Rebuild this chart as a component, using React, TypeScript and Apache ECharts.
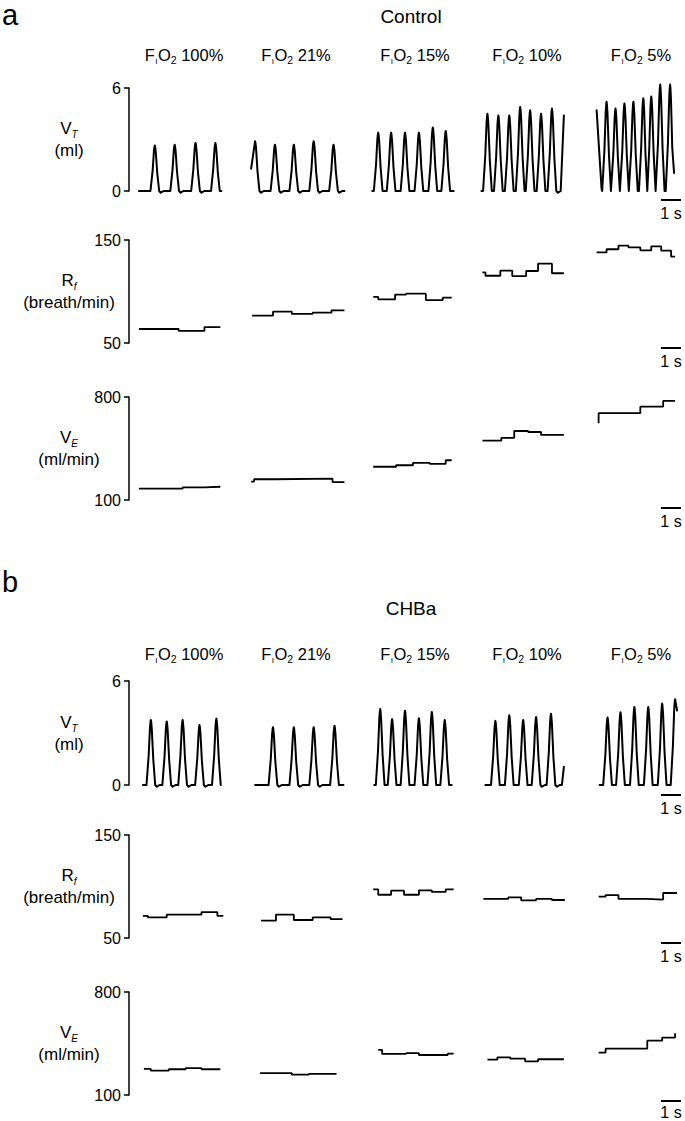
import React, { useEffect, useRef } from 'react';
import * as echarts from 'echarts';

const FONT = '"Liberation Sans", Arial, Helvetica, sans-serif';

type Pt = [number, number];

// ---------- texts ----------
const PANEL_LETTERS = ['a', 'b'];
const PANEL_TITLES = ['Control', 'CHBa'];
const FIO2_LEVELS = ['100%', '21%', '15%', '10%', '5%'];
const ROW_LABEL_MAIN = ['V', 'R', 'V'];
const ROW_LABEL_SUB = ['T', 'f', 'E'];
const ROW_LABEL_UNIT = ['(ml)', '(breath/min)', '(ml/min)'];
const Y_TICKS: number[][] = [[0, 6], [50, 150], [100, 800]];
const SCALE_LABEL = '1 s';

// ---------- data (time in s, value in units of the row) ----------
// Tidal volume traces: lead points, breath peaks [t, peak ml], tail points
const VT_A_LEAD: Pt[][] = [
  [[0.5, 0]],
  [[6.15, 1.3]],
  [[12.25, 0]],
  [[17.75, 0]],
  [[23.55, 4.7], [23.8, 0.1]],
];
const VT_A_PEAKS: Pt[][] = [
  [[1.3, 2.65], [2.3, 2.7], [3.35, 2.8], [4.35, 2.8]],
  [[6.35, 2.9], [7.35, 2.7], [8.3, 2.7], [9.3, 2.9], [10.3, 2.7]],
  [[12.55, 3.4], [13.2, 3.4], [13.9, 3.4], [14.6, 3.4], [15.3, 3.7], [15.95, 3.5]],
  [[18.05, 4.5], [18.6, 4.4], [19.15, 4.4], [19.7, 4.9], [20.2, 4.7], [20.75, 4.5], [21.3, 4.8]],
  [[24.05, 5.2], [24.5, 4.8], [24.95, 5.1], [25.4, 5.2], [25.9, 5.4], [26.3, 5.5], [26.75, 6.2], [27.25, 6.2]],
];
const VT_A_TAIL: Pt[][] = [
  [[4.65, 0]],
  [[10.85, 0]],
  [[16.35, 0]],
  [[21.9, 4.4]],
  [[27.45, 1.05]],
];

const VT_B_LEAD: Pt[][] = [
  [[0.7, 0]],
  [[6.35, 0]],
  [[12.35, 0]],
  [[17.95, 0]],
  [[23.7, 0]],
];
const VT_B_PEAKS: Pt[][] = [
  [[1.1, 3.75], [1.9, 3.67], [2.7, 3.75], [3.55, 3.46], [4.4, 3.83]],
  [[7.25, 3.33], [8.3, 3.33], [9.3, 3.33], [10.35, 3.42]],
  [[12.65, 4.38], [13.25, 3.8], [13.9, 4.29], [14.6, 3.85], [15.25, 4.21], [15.9, 3.75]],
  [[18.45, 3.7], [19.15, 4.02], [19.85, 3.75], [20.5, 3.92], [21.25, 4.11]],
  [[24.1, 3.9], [24.75, 4.2], [25.45, 4.5], [26.15, 4.5], [26.85, 4.7], [27.5, 4.95]],
];
const VT_B_TAIL: Pt[][] = [
  [[4.65, 0]],
  [[10.8, 0]],
  [[16.25, 0]],
  [[21.8, 0], [21.9, 1.05]],
  [[27.6, 4.3]],
];

// Step traces: breakpoints (s) and level values
const RF_A_T: number[][] = [
  [0.5, 2.5, 3.8, 4.6],
  [6.2, 7.25, 8.2, 9.25, 10.2, 10.85],
  [12.3, 12.55, 13.4, 13.95, 14.95, 15.8, 16.25],
  [17.8, 17.95, 18.7, 19.3, 20.0, 20.6, 21.3, 21.9],
  [23.55, 24.05, 24.65, 25.15, 25.75, 26.3, 26.8, 27.3, 27.5],
];
const RF_A_V: number[][] = [
  [63.6, 61.7, 65.5],
  [76.5, 80.4, 78.2, 79.4, 81.7],
  [94.7, 92.4, 96.9, 97.9, 91.7, 94],
  [118.6, 115.3, 120.2, 115, 119.9, 127, 117.7],
  [138, 141, 144.5, 142.9, 140, 143.9, 139.6, 133.8],
];
const VE_A_T: number[][] = [
  [0.5, 2.7, 3.8, 4.6],
  [6.15, 6.3, 7.4, 10.25, 10.85],
  [12.3, 13.45, 14.3, 15.15, 15.95, 16.25],
  [17.8, 18.75, 19.4, 20.1, 20.75, 21.9],
  [23.65, 23.65, 25.75, 26.9, 27.5],
];
const VE_A_V: number[][] = [
  [177, 186, 190],
  [225, 241, 245, 222],
  [326, 336, 352, 345, 370],
  [503, 522, 569, 562, 542],
  [622, 690, 734, 773],
];
const RF_B_T: number[][] = [
  [0.7, 0.95, 1.9, 3.65, 4.45, 4.75],
  [6.65, 7.4, 8.3, 9.25, 10.15, 10.75],
  [12.3, 12.55, 13.2, 13.85, 14.6, 15.25, 15.95, 16.35],
  [17.85, 19.1, 19.75, 20.5, 21.3, 21.95],
  [23.65, 24.0, 24.65, 26.05, 26.9, 27.6],
];
const RF_B_V: number[][] = [
  [71.4, 70.1, 72.6, 75.2, 71.4],
  [66.8, 72.6, 67.5, 70.1, 68.4],
  [97.3, 92, 95.9, 92, 96.3, 94.7, 97.3],
  [87.9, 89.5, 86.6, 87.9, 86.9],
  [90.1, 91.7, 87.9, 87.3, 93.7],
];
const VE_B_T: number[][] = [
  [0.75, 1.1, 2.0, 2.85, 3.65, 4.6],
  [6.6, 8.2, 9.05, 10.45],
  [12.55, 12.75, 13.95, 14.6, 16.05, 16.35],
  [18.05, 18.55, 19.2, 19.95, 20.6, 21.9],
  [23.65, 24.0, 26.1, 26.85, 27.5, 27.5],
];
const VE_B_V: number[][] = [
  [277, 265, 275, 282, 275],
  [248, 238, 243],
  [406, 379, 384, 372, 381],
  [340, 356, 347, 329, 343],
  [388, 415, 469, 490, 520],
];

// ---------- layout ----------
const GRID_LEFT = 129;
const GRID_WIDTH = 560;
const X_MAX = 28;
const ROW_TOPS = [88, 240, 397, 681, 835, 992];
const ROW_HEIGHTS = [103, 103, 103, 104, 103, 103];
const TITLE_X = [184, 296, 415, 527, 641];
const TITLE_Y = [55, 654];
const PANEL_TITLE_Y = [16, 608];
const LETTER_Y = [15, 582];
const BAR_Y = [200, 348, 508, 795, 943, 1101];
const BAR_TEXT_Y = [213, 361, 521, 808, 956, 1112];

function breathTrace(lead: Pt[], peaks: Pt[], tail: Pt[]): Pt[] {
  const W = 0.22;
  const pts: Pt[] = [...lead];
  const n = peaks.length;
  for (let i = 0; i < n; i++) {
    const [tp, a] = peaks[i];
    const prevT = i === 0 ? lead[lead.length - 1][0] : peaks[i - 1][0];
    const nextT = i === n - 1 ? tail[0][0] : peaks[i + 1][0];
    const gapL = tp - prevT;
    const gapR = nextT - tp;
    const leftFromBase = i > 0 || lead[lead.length - 1][1] < 0.5;
    if (leftFromBase) {
      const wL = Math.min(W, i === 0 ? gapL : gapL / 2);
      pts.push([tp - wL, 0]);
      pts.push([tp - 0.5 * wL, 0.45 * a]);
      pts.push([tp - 0.2 * wL, 0.88 * a]);
      pts.push([tp - 0.08 * wL, 0.97 * a]);
    }
    pts.push([tp, a]);
    if (i === n - 1 && gapR < W * 0.6) continue;
    const wR = Math.min(W, i === n - 1 ? gapR : gapR / 2);
    pts.push([tp + 0.08 * wR, 0.97 * a]);
    pts.push([tp + 0.22 * wR, 0.86 * a]);
    pts.push([tp + 0.55 * wR, 0.4 * a]);
    if (i === n - 1 && gapR < W * 0.95) continue;
    pts.push([tp + wR, 0]);
    const spare = gapR - (i === n - 1 ? W : 2 * W);
    if (spare > 0.3) {
      pts.push([tp + wR + 0.08, -0.1]);
      pts.push([tp + wR + 0.22, 0]);
    }
  }
  pts.push(...tail);
  return pts;
}

function stepTrace(t: number[], v: number[]): Pt[] {
  const pts: Pt[] = v.map((val, i) => [t[i], val] as Pt);
  pts.push([t[t.length - 1], v[v.length - 1]]);
  return pts;
}

function buildOption() {
  const grid: any[] = [];
  const xAxis: any[] = [];
  const yAxis: any[] = [];
  const series: any[] = [];
  const graphic: any[] = [];

  for (let r = 0; r < 6; r++) {
    const kind = r % 3;
    const [mn, mx] = Y_TICKS[kind];
    grid.push({ left: GRID_LEFT, top: ROW_TOPS[r], width: GRID_WIDTH, height: ROW_HEIGHTS[r], containLabel: false });
    xAxis.push({ gridIndex: r, type: 'value', min: 0, max: X_MAX, show: false });
    yAxis.push({
      gridIndex: r,
      type: 'value',
      min: mn,
      max: mx,
      axisLine: { show: true, lineStyle: { color: '#000', width: 1.5 } },
      axisTick: { show: true, length: 5, customValues: [mn, mx], lineStyle: { color: '#000', width: 1.5 } },
      axisLabel: { show: true, customValues: [mn, mx], color: '#000', fontSize: 16, fontFamily: FONT, margin: 8 },
      splitLine: { show: false },
    });
  }

  const vtSets = [
    [VT_A_LEAD, VT_A_PEAKS, VT_A_TAIL],
    [VT_B_LEAD, VT_B_PEAKS, VT_B_TAIL],
  ];
  const stepSets = [
    [[RF_A_T, RF_A_V], [VE_A_T, VE_A_V]],
    [[RF_B_T, RF_B_V], [VE_B_T, VE_B_V]],
  ];

  for (let p = 0; p < 2; p++) {
    const [leads, peaks, tails] = vtSets[p];
    for (let c = 0; c < 5; c++) {
      series.push({
        type: 'line',
        xAxisIndex: p * 3,
        yAxisIndex: p * 3,
        data: breathTrace(leads[c], peaks[c], tails[c]),
        showSymbol: false,
        clip: false,
        silent: true,
        lineStyle: { color: '#000', width: 2, join: 'round', cap: 'round' },
      });
    }
    for (let k = 0; k < 2; k++) {
      const [T, V] = stepSets[p][k];
      for (let c = 0; c < 5; c++) {
        series.push({
          type: 'line',
          xAxisIndex: p * 3 + k + 1,
          yAxisIndex: p * 3 + k + 1,
          data: stepTrace(T[c], V[c]),
          step: 'end',
          showSymbol: false,
          clip: false,
          silent: true,
          lineStyle: { color: '#000', width: 1.8 },
        });
      }
    }
  }

  const txt = (x: number, y: number, text: string, extra: any = {}) => ({
    type: 'text',
    x,
    y,
    silent: true,
    style: {
      text,
      fill: '#000',
      fontFamily: FONT,
      fontSize: 16,
      align: 'center',
      textAlign: 'center',
      verticalAlign: 'middle',
      textVerticalAlign: 'middle',
      ...extra,
    },
  });

  for (let p = 0; p < 2; p++) {
    graphic.push(txt(2, LETTER_Y[p], PANEL_LETTERS[p], { fontSize: 29, align: 'left', textAlign: 'left' }));
    graphic.push(txt(411, PANEL_TITLE_Y[p], PANEL_TITLES[p], { fontSize: 19 }));
    for (let c = 0; c < 5; c++) {
      graphic.push(
        txt(TITLE_X[c], TITLE_Y[p], `{m|F}{i|I}{m|O}{n|2}{m| ${FIO2_LEVELS[c]}}`, {
          rich: {
            m: { fontSize: 16.5, fontFamily: FONT, fill: '#000', lineHeight: 20 },
            i: { fontSize: 8, fontFamily: FONT, fill: '#000', lineHeight: 9, verticalAlign: 'bottom', padding: [0, 0.5, 0, 0.5] },
            n: { fontSize: 10.5, fontFamily: FONT, fill: '#000', lineHeight: 11, verticalAlign: 'bottom' },
          },
        })
      );
    }
    for (let k = 0; k < 3; k++) {
      const r = p * 3 + k;
      const mid = ROW_TOPS[r] + ROW_HEIGHTS[r] / 2;
      graphic.push(
        txt(69, mid, `{m|${ROW_LABEL_MAIN[k]}}{s|${ROW_LABEL_SUB[k]}}\n{m|${ROW_LABEL_UNIT[k]}}`, {
          rich: {
            m: { fontSize: 17, fontFamily: FONT, fill: '#000', lineHeight: 22 },
            s: { fontSize: 10, fontStyle: 'italic', fontFamily: FONT, fill: '#000', lineHeight: 11, verticalAlign: 'bottom' },
          },
        })
      );
    }
  }

  for (let r = 0; r < 6; r++) {
    graphic.push({
      type: 'line',
      silent: true,
      shape: { x1: 661, y1: BAR_Y[r], x2: 681, y2: BAR_Y[r] },
      style: { stroke: '#000', lineWidth: 2 },
    });
    graphic.push(txt(671, BAR_TEXT_Y[r], SCALE_LABEL, { fontSize: 16 }));
  }

  return {
    animation: false,
    backgroundColor: '#fff',
    grid,
    xAxis,
    yAxis,
    series,
    graphic,
  };
}

export default function App() {
  const ref = useRef<HTMLDivElement>(null);
  useEffect(() => {
    if (!ref.current) return;
    const chart = echarts.init(ref.current, undefined, { renderer: 'svg' });
    chart.setOption(buildOption() as any);
    return () => chart.dispose();
  }, []);
  return (
    <div
      ref={ref}
      style={{ position: 'absolute', left: 0, top: 0, width: 685, height: 1121, background: '#fff' }}
    />
  );
}
